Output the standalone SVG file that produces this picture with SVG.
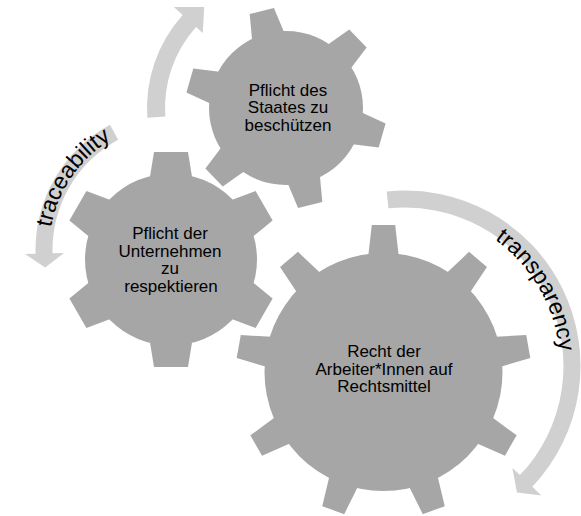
<svg xmlns="http://www.w3.org/2000/svg" width="581" height="516" viewBox="0 0 581 516">
<style>
.gear{fill:#a6a6a6}
.arrow{fill:#d0d0d0}
.lbl{font-family:"Liberation Sans",Arial,sans-serif;font-size:17px;fill:#000;text-anchor:middle}
.arc{font-family:"Liberation Sans",Arial,sans-serif;font-size:23px;fill:#000}
</style>
<defs>
<polygon id="toothL" points="-15.7,-112 -11.7,-147 11.7,-147 15.7,-112"/>
<polygon id="toothM" points="-17.1,-70 -12.5,-100 12.5,-100 17.1,-70"/>
<polygon id="toothS" points="-21.8,-78 -17,-107.5 17,-107.5 21.8,-78"/>
<path id="tpTrace" d="M 51.16 273.51 A 129 129 0 0 1 154.49 123.16"/>
<path id="tpTrans" d="M 445.12 216.28 A 155 155 0 0 1 554.72 406.12"/>
</defs>
<rect width="581" height="516" fill="#fff"/>
<g id="connectors">
<path class="arrow" d="M 147.34 117.70 A 139 139 0 0 1 182.70 14.99 L 173.79 6.96 L 204.19 6.97 L 202.77 33.06 L 196.08 27.04 A 121 121 0 0 0 165.30 116.44 Z"/>
<path class="arrow" d="M 110.00 124.77 A 142.5 142.5 0 0 0 35.55 253.73 L 25.05 254.01 L 45.15 267.49 L 64.04 252.98 L 52.54 253.29 A 125.5 125.5 0 0 1 118.12 139.71 Z"/>
<path class="arrow" d="M 386.66 191.46 A 175.5 175.5 0 0 1 532.30 486.81 L 541.37 495.41 L 516.98 492.57 L 512.36 467.88 L 519.97 475.10 A 158.5 158.5 0 0 0 388.43 208.37 Z"/>
<text class="arc"><textPath href="#tpTrace" startOffset="50%" text-anchor="middle">traceability</textPath></text>
<text class="arc"><textPath href="#tpTrans" startOffset="50%" text-anchor="middle">transparency</textPath></text>
</g>
<g id="gear-staat">
<g class="gear" transform="translate(286,108)">
<circle r="77"/>
<use href="#toothM" transform="rotate(46)"/>
<use href="#toothM" transform="rotate(106)"/>
<use href="#toothM" transform="rotate(166)"/>
<use href="#toothM" transform="rotate(226)"/>
<use href="#toothM" transform="rotate(286)"/>
<use href="#toothM" transform="rotate(346)"/>
</g>
<text class="lbl" x="288" y="95.5">Pflicht des</text>
<text class="lbl" x="288" y="113">Staates zu</text>
<text class="lbl" x="288" y="130.5">beschützen</text>
</g>
<g id="gear-unternehmen">
<g class="gear" transform="translate(171,259.5)">
<circle r="86"/>
<use href="#toothS" transform="rotate(0)"/>
<use href="#toothS" transform="rotate(60)"/>
<use href="#toothS" transform="rotate(120)"/>
<use href="#toothS" transform="rotate(180)"/>
<use href="#toothS" transform="rotate(240)"/>
<use href="#toothS" transform="rotate(300)"/>
</g>
<text class="lbl" x="170" y="239">Pflicht der</text>
<text class="lbl" x="170" y="256.5">Unternehmen</text>
<text class="lbl" x="170" y="274">zu</text>
<text class="lbl" x="171" y="291.5">respektieren</text>
</g>
<g id="gear-recht">
<g class="gear" transform="translate(383.5,372)">
<circle r="119"/>
<use href="#toothL" transform="rotate(0)"/>
<use href="#toothL" transform="rotate(40)"/>
<use href="#toothL" transform="rotate(80)"/>
<use href="#toothL" transform="rotate(120)"/>
<use href="#toothL" transform="rotate(160)"/>
<use href="#toothL" transform="rotate(200)"/>
<use href="#toothL" transform="rotate(240)"/>
<use href="#toothL" transform="rotate(280)"/>
<use href="#toothL" transform="rotate(320)"/>
</g>
<text class="lbl" x="384" y="357">Recht der</text>
<text class="lbl" x="384" y="374.5">Arbeiter*Innen auf</text>
<text class="lbl" x="384" y="392">Rechtsmittel</text>
</g>
</svg>
